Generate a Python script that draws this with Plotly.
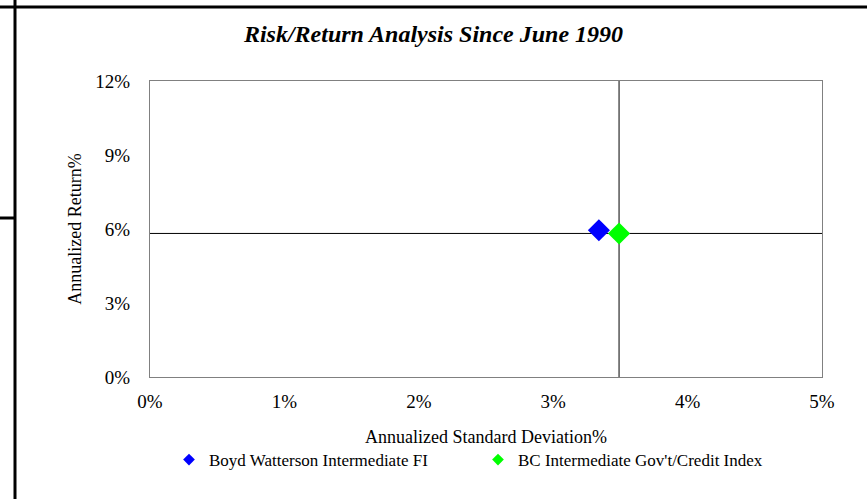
import plotly.graph_objects as go

# data
series_names = ["Boyd Watterson Intermediate FI", "BC Intermediate Gov't/Credit Index"]
std_dev = [3.34, 3.49]
returns = [5.95, 5.82]
colors = ["#0000FF", "#00FF00"]
x_ticks = [0, 1, 2, 3, 4, 5]
y_ticks = [0, 3, 6, 9, 12]

FONT = "Liberation Serif, Times New Roman, serif"

fig = go.Figure()

# crosshair through the index point
bench_x, bench_y = std_dev[1], returns[1]
fig.add_shape(type="line", xref="x", yref="y", x0=bench_x, x1=bench_x, y0=0, y1=12,
              line=dict(color="black", width=1), layer="below")
fig.add_shape(type="line", xref="x", yref="y", x0=0, x1=5, y0=bench_y, y1=bench_y,
              line=dict(color="black", width=1), layer="below")

for name, sx, ry, c in zip(series_names, std_dev, returns, colors):
    fig.add_trace(go.Scatter(
        x=[sx], y=[ry], mode="markers", name=name, showlegend=False,
        marker=dict(symbol="diamond", size=17, color=c, line=dict(width=0)),
    ))
    # small marker for the legend
    fig.add_trace(go.Scatter(
        x=[None], y=[None], mode="markers", name=name,
        marker=dict(symbol="diamond", size=9, color=c, line=dict(width=0)),
    ))

# page border lines (paper coords, plot spans 150..822 x 81..377 px)
W, H, L, R, T, B = 867, 499, 150, 822, 81, 377
pw, ph = R - L, B - T
def px(x):
    return (x - L) / pw
def py(y):
    return (B - y) / ph

fig.add_shape(type="line", xref="paper", yref="paper", x0=px(0), x1=px(W), y0=py(7), y1=py(7),
              line=dict(color="black", width=3))
fig.add_shape(type="line", xref="paper", yref="paper", x0=px(15), x1=px(15), y0=py(0), y1=py(H),
              line=dict(color="black", width=3))
fig.add_shape(type="line", xref="paper", yref="paper", x0=px(0), x1=px(15), y0=py(218), y1=py(218),
              line=dict(color="black", width=3))

fig.update_layout(
    width=W, height=H,
    margin=dict(l=L, r=W - R, t=T, b=H - B),
    paper_bgcolor="white", plot_bgcolor="white",
    font=dict(family=FONT, color="black"),
    title=dict(text="<b><i>Risk/Return Analysis Since June 1990</i></b>",
               x=0.5, xanchor="center", y=1 - 34 / H, yanchor="middle",
               font=dict(size=24, family=FONT)),
    xaxis=dict(range=[0, 5], tickvals=x_ticks, ticktext=[f"{v}%" for v in x_ticks],
               showgrid=False, zeroline=False, showline=True, mirror=True,
               linecolor="#808080", linewidth=1, ticks="", ticklabelstandoff=7,
               tickfont=dict(size=19), title=dict(text="Annualized Standard Deviation%",
                                                   font=dict(size=18), standoff=19)),
    yaxis=dict(range=[0, 12], tickvals=y_ticks, ticktext=[f"{v}%" for v in y_ticks],
               showgrid=False, zeroline=False, showline=True, mirror=True,
               linecolor="#808080", linewidth=1, ticks="", ticklabelstandoff=15,
               tickfont=dict(size=19), title=dict(text="Annualized Return%",
                                                   font=dict(size=18), standoff=9)),
    legend=dict(orientation="h", x=px(169), xanchor="left", y=py(460), yanchor="middle",
                font=dict(size=17), entrywidth=264, entrywidthmode="pixels",
                bgcolor="rgba(0,0,0,0)"),
    showlegend=True,
)

fig.write_html("out.html", config={"displayModeBar": False},
               post_script="document.body.style.margin='0';")
